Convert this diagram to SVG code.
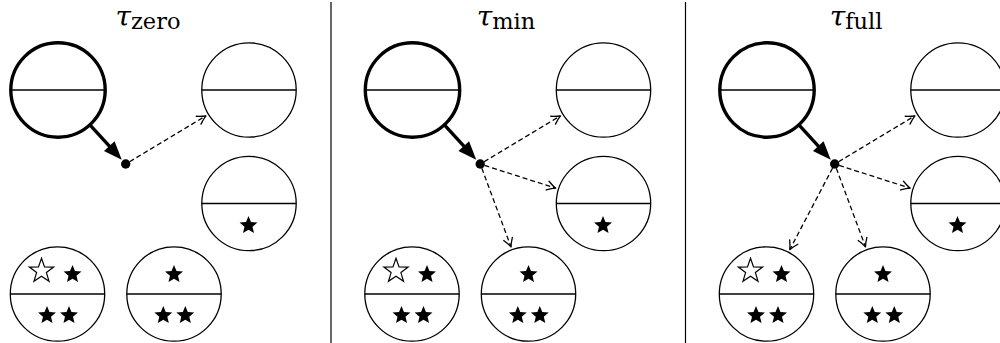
<svg xmlns="http://www.w3.org/2000/svg" xmlns:xlink="http://www.w3.org/1999/xlink" width="1000" height="343" viewBox="0 0 1000 343">
  <style>
    .node { fill: #fff; stroke: #000; stroke-width: 1.3; }
    .root { fill: #fff; stroke: #000; stroke-width: 3.4; }
    .split { stroke: #000; stroke-width: 1.3; }
    .junction { fill: #000; stroke: none; }
    .dash { fill: none; stroke: #000; stroke-width: 1.3; stroke-dasharray: 5 3; }
    .thick { fill: none; stroke: #000; stroke-width: 3.4; }
    .divider { stroke: #000; stroke-width: 1.2; }
    .sfill { fill: #000; stroke: none; }
    .sopen { fill: #fff; stroke: #000; stroke-width: 1.2; stroke-linejoin: miter; }
  </style>
  <defs>
    <!-- open "to" head for dashed edges -->
    <marker id="to" markerUnits="userSpaceOnUse" viewBox="-10 -6 11 12" refX="0" refY="0" markerWidth="11" markerHeight="12" orient="auto" overflow="visible">
      <path d="M-8.5,-4.6 C-5.6,-2.7 -1.8,-0.7 0,0 C-1.8,0.7 -5.6,2.7 -8.5,4.6" fill="none" stroke="#000" stroke-width="1.3" stroke-dasharray="none" stroke-linecap="round" stroke-linejoin="round"/>
    </marker>
    <!-- filled head for the thick edge (reference point at its base) -->
    <marker id="head" markerUnits="userSpaceOnUse" viewBox="-1 -9 21 18" refX="0" refY="0" markerWidth="21" markerHeight="18" orient="auto" overflow="visible">
      <path d="M-0.5,-7.2 L18,0 L-0.5,7.2 Z" fill="#000" stroke="none"/>
    </marker>
    <path id="star" class="sfill" d="M0,-9.4 L2.469,-3.398 L8.940,-2.905 L3.995,1.298 L5.525,7.605 L0,4.2 L-5.525,7.605 L-3.995,1.298 L-8.940,-2.905 L-2.469,-3.398 Z"/>
    <path id="ostar" class="sopen" d="M0,-12.8 L3.027,-4.167 L12.173,-3.955 L4.898,1.591 L7.524,10.355 L0,5.15 L-7.524,10.355 L-4.898,1.591 L-12.173,-3.955 L-3.027,-4.167 Z"/>
  </defs>

  <rect width="1000" height="343" fill="#fff"/>

  <!-- panel separators -->
  <g id="dividers">
    <line class="divider" x1="331" y1="2" x2="331" y2="343"/>
    <line class="divider" x1="685.5" y1="2" x2="685.5" y2="343"/>
  </g>

  <!-- panel titles -->
  <g id="titles" font-family="'DejaVu Serif', 'Liberation Serif', serif" fill="#000">
    <text x="148" y="25.5" text-anchor="middle"><tspan font-style="italic" font-size="28">τ</tspan><tspan font-size="22.5" dy="3">zero</tspan></text>
    <text x="506" y="25.5" text-anchor="middle"><tspan font-style="italic" font-size="28">τ</tspan><tspan font-size="22.5" dy="3">min</tspan></text>
    <text x="856" y="25.5" text-anchor="middle"><tspan font-style="italic" font-size="28">τ</tspan><tspan font-size="22.5" dy="3">full</tspan></text>
  </g>

  <!-- edges -->
  <g id="connectors">
    <g id="edges-zero">
      <path class="thick" d="M89.9,124.8 L109.6,146.4" marker-end="url(#head)"/>
      <path class="dash" d="M129.6,161.7 L205.9,115.8" marker-end="url(#to)"/>
    </g>
    <g id="edges-min" transform="translate(354.5,0)">
      <path class="thick" d="M89.9,124.8 L109.6,146.4" marker-end="url(#head)"/>
      <path class="dash" d="M129.6,161.7 L205.9,115.8" marker-end="url(#to)"/>
      <path class="dash" d="M130,165.4 L201.2,188.2" marker-end="url(#to)"/>
      <path class="dash" d="M127.3,168.2 L156.5,246.9" marker-end="url(#to)"/>
    </g>
    <g id="edges-full" transform="translate(709,0)">
      <path class="thick" d="M89.9,124.8 L109.6,146.4" marker-end="url(#head)"/>
      <path class="dash" d="M129.6,161.7 L205.9,115.8" marker-end="url(#to)"/>
      <path class="dash" d="M130,165.4 L201.2,188.2" marker-end="url(#to)"/>
      <path class="dash" d="M127.3,168.2 L156.5,246.9" marker-end="url(#to)"/>
      <path class="dash" d="M123.6,168 L80.8,249.6" marker-end="url(#to)"/>
    </g>
  </g>

  <!-- nodes: panel zero -->
  <g id="panel-zero">
    <g id="zero-root"><circle class="root" cx="58" cy="90" r="47.2"/><line class="split" x1="10.8" y1="90" x2="105.2" y2="90"/></g>
    <g id="zero-junction"><circle class="junction" cx="125.7" cy="164" r="4.7"/></g>
    <g id="zero-a"><circle class="node" cx="249" cy="90" r="47.2"/><line class="split" x1="201.8" y1="90" x2="296.2" y2="90"/></g>
    <g id="zero-b"><circle class="node" cx="249" cy="203.5" r="47.2"/><line class="split" x1="201.8" y1="203.5" x2="296.2" y2="203.5"/><use xlink:href="#star" x="248.5" y="225.5"/></g>
    <g id="zero-c"><circle class="node" cx="57.5" cy="294" r="47.2"/><line class="split" x1="10.3" y1="294" x2="104.7" y2="294"/><use xlink:href="#ostar" x="41.5" y="271"/><use xlink:href="#star" x="72.5" y="274.5"/><use xlink:href="#star" x="47" y="315.5"/><use xlink:href="#star" x="69" y="315.5"/></g>
    <g id="zero-d"><circle class="node" cx="174" cy="294" r="47.2"/><line class="split" x1="126.8" y1="294" x2="221.2" y2="294"/><use xlink:href="#star" x="174" y="274.5"/><use xlink:href="#star" x="163.3" y="315.5"/><use xlink:href="#star" x="185.3" y="315.5"/></g>
  </g>

  <!-- nodes: panel min -->
  <g id="panel-min" transform="translate(354.5,0)">
    <g id="min-root"><circle class="root" cx="58" cy="90" r="47.2"/><line class="split" x1="10.8" y1="90" x2="105.2" y2="90"/></g>
    <g id="min-junction"><circle class="junction" cx="125.7" cy="164" r="4.7"/></g>
    <g id="min-a"><circle class="node" cx="249" cy="90" r="47.2"/><line class="split" x1="201.8" y1="90" x2="296.2" y2="90"/></g>
    <g id="min-b"><circle class="node" cx="249" cy="203.5" r="47.2"/><line class="split" x1="201.8" y1="203.5" x2="296.2" y2="203.5"/><use xlink:href="#star" x="248.5" y="225.5"/></g>
    <g id="min-c"><circle class="node" cx="57.5" cy="294" r="47.2"/><line class="split" x1="10.3" y1="294" x2="104.7" y2="294"/><use xlink:href="#ostar" x="41.5" y="271"/><use xlink:href="#star" x="72.5" y="274.5"/><use xlink:href="#star" x="47" y="315.5"/><use xlink:href="#star" x="69" y="315.5"/></g>
    <g id="min-d"><circle class="node" cx="174" cy="294" r="47.2"/><line class="split" x1="126.8" y1="294" x2="221.2" y2="294"/><use xlink:href="#star" x="174" y="274.5"/><use xlink:href="#star" x="163.3" y="315.5"/><use xlink:href="#star" x="185.3" y="315.5"/></g>
  </g>

  <!-- nodes: panel full -->
  <g id="panel-full" transform="translate(709,0)">
    <g id="full-root"><circle class="root" cx="58" cy="90" r="47.2"/><line class="split" x1="10.8" y1="90" x2="105.2" y2="90"/></g>
    <g id="full-junction"><circle class="junction" cx="125.7" cy="164" r="4.7"/></g>
    <g id="full-a"><circle class="node" cx="249" cy="90" r="47.2"/><line class="split" x1="201.8" y1="90" x2="296.2" y2="90"/></g>
    <g id="full-b"><circle class="node" cx="249" cy="203.5" r="47.2"/><line class="split" x1="201.8" y1="203.5" x2="296.2" y2="203.5"/><use xlink:href="#star" x="248.5" y="225.5"/></g>
    <g id="full-c"><circle class="node" cx="57.5" cy="294" r="47.2"/><line class="split" x1="10.3" y1="294" x2="104.7" y2="294"/><use xlink:href="#ostar" x="41.5" y="271"/><use xlink:href="#star" x="72.5" y="274.5"/><use xlink:href="#star" x="47" y="315.5"/><use xlink:href="#star" x="69" y="315.5"/></g>
    <g id="full-d"><circle class="node" cx="174" cy="294" r="47.2"/><line class="split" x1="126.8" y1="294" x2="221.2" y2="294"/><use xlink:href="#star" x="174" y="274.5"/><use xlink:href="#star" x="163.3" y="315.5"/><use xlink:href="#star" x="185.3" y="315.5"/></g>
  </g>
</svg>
